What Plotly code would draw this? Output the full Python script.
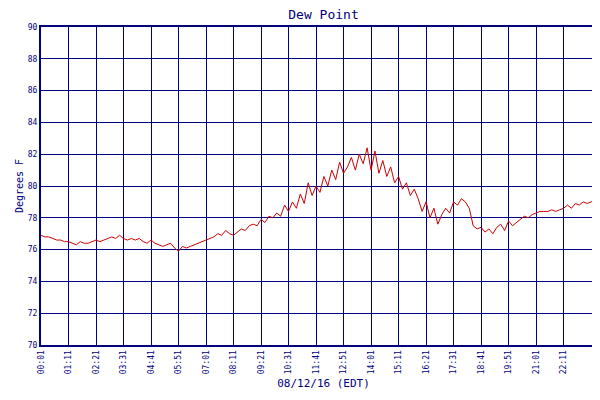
import plotly.graph_objects as go

# dew point readings, one every 10 minutes starting 00:01
dew = [
    76.9, 76.8, 76.8, 76.7, 76.6, 76.6,
    76.5, 76.5, 76.4, 76.3, 76.5, 76.4,
    76.4, 76.5, 76.6, 76.5, 76.6, 76.7,
    76.8, 76.7, 76.9, 76.7, 76.6, 76.7,
    76.6, 76.7, 76.5, 76.4, 76.6, 76.4,
    76.3, 76.2, 76.3, 76.4, 76.1, 75.9,
    76.2, 76.1, 76.2, 76.3, 76.4, 76.5,
    76.6, 76.7, 76.8, 77.0, 76.9, 77.2,
    77.0, 76.9, 77.1, 77.3, 77.2, 77.5,
    77.6, 77.5, 77.9, 77.7, 78.1, 78.0,
    78.3, 78.1, 78.8, 78.4, 79.0, 78.6,
    79.5, 78.9, 80.2, 79.4, 80.0, 79.6,
    80.6, 80.0, 81.0, 80.4, 81.5, 80.8,
    81.2, 81.8, 81.0, 82.0, 81.4, 82.4,
    81.0, 82.2, 80.8, 81.6, 80.6, 81.2,
    80.2, 80.6, 79.8, 80.2, 79.4, 79.8,
    79.2, 78.4, 79.0, 78.0, 78.6, 77.6,
    78.2, 78.6, 78.3, 79.0, 78.8, 79.2,
    79.0, 78.6, 77.5, 77.3, 77.4, 77.1,
    77.3, 77.0, 77.4, 77.6, 77.2, 77.8,
    77.5, 77.7, 77.9, 78.1, 78.0, 78.2,
    78.3, 78.4, 78.4, 78.4, 78.5, 78.4,
    78.5, 78.6, 78.8, 78.6, 78.9, 78.8,
    79.0, 78.9, 79.0, 79.1, 79.2, 79.1,
]
minutes = [1 + 10 * i for i in range(len(dew))]
minutes[-1] = 1439

tick_labels = ["00:01", "01:11", "02:21", "03:31", "04:41", "05:51", "07:01",
               "08:11", "09:21", "10:31", "11:41", "12:51", "14:01", "15:11",
               "16:21", "17:31", "18:41", "19:51", "21:01", "22:11", "23:59"]
tick_vals = [1 + 70 * i for i in range(20)] + [1439]

navy = "#000080"
font = dict(family="DejaVu Sans Mono", size=8, color=navy)

fig = go.Figure(go.Scatter(x=minutes, y=dew, mode="lines", name="Dew Point",
                           line=dict(color="#cc0000", width=1)))

fig.update_layout(
    width=600, height=400,
    margin=dict(l=33, r=2, t=19, b=63, autoexpand=False),
    paper_bgcolor="white", plot_bgcolor="white",
    font=font,
    title=dict(text="Dew Point", x=0.5, xref="paper", y=1.0, yref="container",
               yanchor="top", pad=dict(t=2),
               font=dict(family="DejaVu Sans Mono", size=13, color=navy)),
    showlegend=True,
    legend=dict(orientation="h", x=0.5, xanchor="center", y=-0.16, yanchor="top",
                font=dict(size=8, color=navy)),
)
fig.update_xaxes(range=[1, 1439], tickvals=tick_vals, ticktext=tick_labels,
                 tickangle=-90, showgrid=True, gridcolor=navy, gridwidth=1,
                 showline=True, linecolor=navy, linewidth=2, mirror=True,
                 automargin=False, ticklabeloverflow="allow",
                 title=dict(text="08/12/16 (EDT)", standoff=6,
                            font=dict(family="DejaVu Sans Mono", size=11, color=navy)),
                 zeroline=False)
fig.update_yaxes(range=[70, 90], dtick=2, showgrid=True, gridcolor=navy, gridwidth=1,
                 showline=True, linecolor=navy, linewidth=2, mirror=True,
                 automargin=False, ticks="", ticklen=2,
                 title=dict(text="Degrees F", standoff=2,
                            font=dict(family="DejaVu Sans Mono", size=10, color=navy)),
                 zeroline=False)

fig.write_html("out.html")
